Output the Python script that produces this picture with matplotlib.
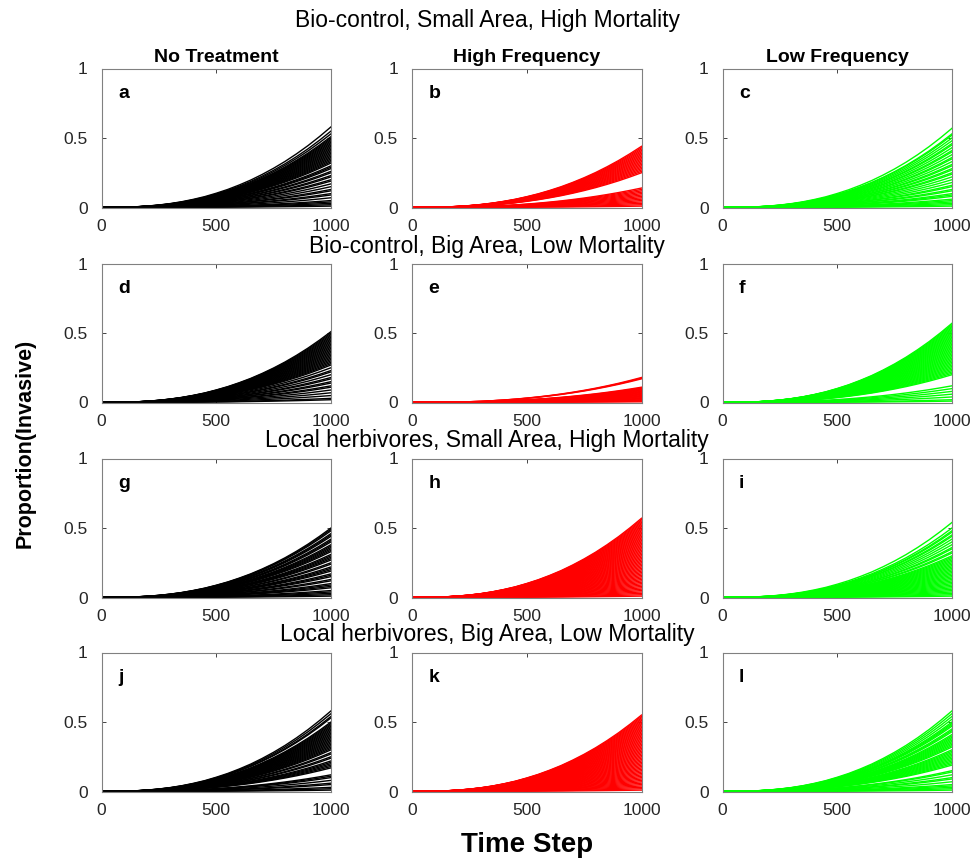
import matplotlib
matplotlib.use("Agg")
import matplotlib.pyplot as plt
import numpy as np

plt.rcParams['font.family'] = ['Liberation Sans', 'DejaVu Sans']

# shared growth profile (normalised upper envelope)
time_steps = [0, 50, 100, 150, 200, 250, 300, 350, 400, 450, 500,
              550, 600, 650, 700, 750, 800, 850, 900, 950, 1000]
profile = [0.0, 0.0006, 0.003, 0.009, 0.018, 0.031, 0.049, 0.072, 0.101, 0.135, 0.177,
           0.224, 0.279, 0.34, 0.41, 0.487, 0.572, 0.666, 0.768, 0.88, 1.0]

# final proportions (t = 1000) of the runs in each panel
end_a = [0.58, 0.55, 0.53, 0.51, 0.50, 0.49, 0.48, 0.47, 0.46, 0.45, 0.44, 0.43, 0.42, 0.41, 0.40,
         0.39, 0.38, 0.37, 0.36, 0.35, 0.34, 0.33, 0.32, 0.30, 0.29, 0.28, 0.26, 0.25, 0.23, 0.22,
         0.20, 0.19, 0.17, 0.15, 0.13, 0.12, 0.10, 0.09, 0.07, 0.05, 0.04, 0.03, 0.02, 0.01]
end_b = [0.44, 0.43, 0.42, 0.41, 0.40, 0.39, 0.38, 0.37, 0.36, 0.35, 0.34, 0.33, 0.32, 0.31, 0.30,
         0.29, 0.28, 0.27, 0.26, 0.25, 0.14, 0.13, 0.12, 0.11, 0.10, 0.09, 0.08, 0.07, 0.06, 0.05,
         0.04, 0.03, 0.02, 0.01]
end_c = [0.57, 0.53, 0.52, 0.50, 0.48, 0.46, 0.45, 0.43, 0.41, 0.40, 0.38, 0.36, 0.35, 0.33, 0.31,
         0.30, 0.28, 0.27, 0.25, 0.24, 0.22, 0.20, 0.18, 0.16, 0.15, 0.13, 0.12, 0.10, 0.09, 0.08,
         0.06, 0.05, 0.04, 0.03, 0.02, 0.01]
end_d = [0.51, 0.50, 0.49, 0.48, 0.47, 0.46, 0.45, 0.44, 0.43, 0.42, 0.41, 0.40, 0.39, 0.38, 0.37,
         0.36, 0.35, 0.34, 0.33, 0.32, 0.31, 0.30, 0.29, 0.28, 0.27, 0.25, 0.23, 0.22, 0.20, 0.18,
         0.17, 0.15, 0.14, 0.12, 0.11, 0.09, 0.07, 0.05, 0.03, 0.02]
end_e = [0.18, 0.175, 0.17, 0.11, 0.105, 0.10, 0.095, 0.09, 0.085, 0.08, 0.075, 0.07, 0.065, 0.06,
         0.055, 0.05, 0.045, 0.04, 0.035, 0.03, 0.025, 0.02, 0.015, 0.01, 0.005]
end_f = [0.57, 0.56, 0.55, 0.54, 0.53, 0.52, 0.51, 0.50, 0.49, 0.48, 0.47, 0.46, 0.45, 0.44, 0.43,
         0.42, 0.41, 0.40, 0.39, 0.38, 0.37, 0.36, 0.35, 0.34, 0.33, 0.32, 0.31, 0.30, 0.29, 0.28,
         0.27, 0.26, 0.25, 0.24, 0.23, 0.22, 0.21, 0.20, 0.12, 0.10, 0.08, 0.06, 0.04, 0.02, 0.01]
end_g = [0.50, 0.49, 0.48, 0.46, 0.45, 0.44, 0.42, 0.41, 0.40, 0.38, 0.37, 0.36, 0.35, 0.34, 0.33,
         0.31, 0.30, 0.29, 0.28, 0.27, 0.25, 0.24, 0.22, 0.21, 0.20, 0.19, 0.17, 0.16, 0.15, 0.13,
         0.12, 0.10, 0.09, 0.08, 0.07, 0.05, 0.04, 0.03, 0.02, 0.01]
end_h = [0.57, 0.56, 0.55, 0.54, 0.53, 0.52, 0.51, 0.50, 0.49, 0.48, 0.47, 0.46, 0.45, 0.44, 0.43,
         0.42, 0.41, 0.40, 0.39, 0.38, 0.37, 0.36, 0.35, 0.34, 0.33, 0.32, 0.31, 0.30, 0.29, 0.28,
         0.27, 0.26, 0.25, 0.24, 0.23, 0.22, 0.21, 0.20, 0.19, 0.18, 0.17, 0.16, 0.15, 0.14, 0.13,
         0.12, 0.11, 0.10, 0.09, 0.08, 0.07, 0.06, 0.05, 0.04, 0.03, 0.02, 0.01]
end_i = [0.54, 0.50, 0.48, 0.47, 0.45, 0.44, 0.42, 0.40, 0.38, 0.36, 0.35, 0.33, 0.32, 0.30, 0.29,
         0.28, 0.27, 0.26, 0.25, 0.24, 0.23, 0.22, 0.21, 0.20, 0.19, 0.18, 0.17, 0.16, 0.15, 0.14,
         0.13, 0.12, 0.11, 0.10, 0.09, 0.08, 0.07, 0.06, 0.05, 0.04, 0.03, 0.02, 0.01]
end_j = [0.58, 0.56, 0.54, 0.53, 0.50, 0.49, 0.48, 0.47, 0.46, 0.45, 0.44, 0.43, 0.42, 0.41, 0.40,
         0.39, 0.38, 0.37, 0.36, 0.35, 0.34, 0.33, 0.32, 0.31, 0.30, 0.28, 0.27, 0.25, 0.24, 0.22,
         0.21, 0.20, 0.19, 0.18, 0.17, 0.12, 0.11, 0.10, 0.08, 0.06, 0.05, 0.03, 0.02, 0.01]
end_k = [0.55, 0.54, 0.53, 0.52, 0.51, 0.50, 0.49, 0.48, 0.47, 0.46, 0.45, 0.44, 0.43, 0.42, 0.41,
         0.40, 0.39, 0.38, 0.37, 0.36, 0.35, 0.34, 0.33, 0.32, 0.31, 0.30, 0.29, 0.28, 0.27, 0.26,
         0.25, 0.24, 0.23, 0.22, 0.21, 0.20, 0.19, 0.18, 0.17, 0.16, 0.15, 0.14, 0.13, 0.12, 0.11,
         0.10, 0.09, 0.08, 0.07, 0.06, 0.05, 0.04, 0.03, 0.02, 0.01]
end_l = [0.58, 0.56, 0.54, 0.52, 0.50, 0.49, 0.48, 0.47, 0.45, 0.44, 0.43, 0.41, 0.40, 0.39, 0.38,
         0.37, 0.36, 0.35, 0.34, 0.33, 0.32, 0.30, 0.29, 0.28, 0.27, 0.26, 0.25, 0.24, 0.23, 0.22,
         0.21, 0.20, 0.19, 0.15, 0.14, 0.12, 0.10, 0.09, 0.07, 0.05, 0.04, 0.03, 0.02, 0.01]

panel_ends = [[end_a, end_b, end_c],
              [end_d, end_e, end_f],
              [end_g, end_h, end_i],
              [end_j, end_k, end_l]]
panel_letters = ['a', 'b', 'c', 'd', 'e', 'f', 'g', 'h', 'i', 'j', 'k', 'l']
row_titles = ['Bio-control, Small Area, High Mortality',
              'Bio-control, Big Area, Low Mortality',
              'Local herbivores, Small Area, High Mortality',
              'Local herbivores, Big Area, Low Mortality']
col_titles = ['No Treatment', 'High Frequency', 'Low Frequency']
col_colors = ['#000000', '#ff0000', '#00ff00']

W, H = 977, 865
fig = plt.figure(figsize=(W / 100, H / 100), dpi=100)

col_left = [101.5, 412, 722.5]
row_top = [68.5, 263.5, 458.5, 652.5]
ax_w, ax_h = 229.5, 139
row_title_y = [20, 246, 440, 635]
grey = '#262626'

t = np.array(time_steps)
prof = np.array(profile)

for r in range(4):
    for c in range(3):
        ax = fig.add_axes([col_left[c] / W, 1 - (row_top[r] + ax_h) / H, ax_w / W, ax_h / H])
        for e in panel_ends[r][c]:
            ax.plot(t, e * prof, color=col_colors[c], lw=1.0)
        ax.set_xlim(0, 1000)
        ax.set_ylim(0, 1)
        ax.set_xticks([0, 500, 1000])
        ax.set_yticks([0, 0.5, 1])
        ax.set_xticklabels(['0', '500', '1000'])
        ax.set_yticklabels(['0', '0.5', '1'])
        ax.tick_params(direction='in', length=3, width=0.6, top=True, right=True,
                       labelsize=12.5, colors=grey, labelcolor=grey)
        ax.tick_params(axis='x', pad=8)
        ax.tick_params(axis='y', pad=10)
        for s in ax.spines.values():
            s.set_color('#808080')
            s.set_linewidth(0.8)
        ax.text(0.072, 0.82, panel_letters[r * 3 + c], transform=ax.transAxes,
                fontsize=14, fontweight='bold', ha='left', va='center')
        if r == 0:
            ax.set_title(col_titles[c], fontsize=14, fontweight='bold', pad=5)
    fig.text(0.4985, 1 - row_title_y[r] / H, row_titles[r], fontsize=16.5,
             ha='center', va='center')

fig.text(0.026, 0.487, 'Proportion(Invasive)', rotation=90, fontsize=15.5,
         fontweight='bold', ha='center', va='center')
fig.text(0.539, 0.023, 'Time Step', fontsize=20, fontweight='bold',
         ha='center', va='center')

fig.savefig('out.png', dpi=100)
